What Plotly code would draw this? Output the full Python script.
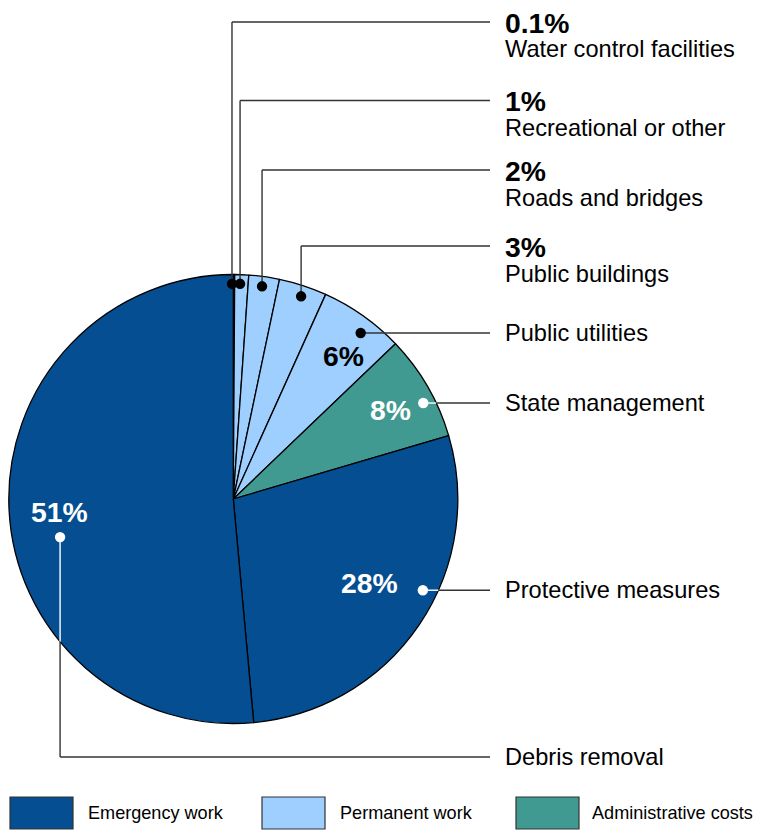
import math
import plotly.graph_objects as go

# ---------------- data ----------------
categories = ["Water control facilities", "Recreational or other", "Roads and bridges",
              "Public buildings", "Public utilities", "State management",
              "Protective measures", "Debris removal"]
shares = [0.1, 1.0, 2.2, 3.45, 6.1, 7.6, 28.1, 51.45]
pct_labels = ["0.1%", "1%", "2%", "3%", "6%", "8%", "28%", "51%"]
slice_groups = ["Permanent work", "Permanent work", "Permanent work", "Permanent work",
                "Permanent work", "Administrative costs", "Emergency work", "Emergency work"]
group_names = ["Emergency work", "Permanent work", "Administrative costs"]

# ---------------- style / layout ----------------
PAGE_OFF = 8                      # browser body margin
W, H = 762 - PAGE_OFF, 831 - PAGE_OFF
CX, CY, R = 233.3, 499.0, 224.5   # page pixel coordinates of the pie
group_colors = {"Emergency work": "#054E91", "Permanent work": "#9ECFFE",
                "Administrative costs": "#409A91"}
FONT = "Liberation Sans, Arial, Helvetica, sans-serif"
LINE = "#333333"
LABEL_X = 503
LINE_END_X = 490
PCT_SIZE = 28.3
CAT_SIZE = 23.6
LEG_SIZE = 18.1

anchors = [(-0.35, 0.958), (1.8, 0.959), (7.7, 0.956), (18.5, 0.952),
           (37.5, 0.932), (63.2, 0.948), (115.7, 0.937), (257.6, 0.79)]
routes = ["up", "up", "up", "up", "right", "right", "right", "down"]
row_y = [22, 100.5, 170, 246, None, None, None, 757]
inside = [False, False, False, False, True, True, True, True]
inside_offset = [None, None, None, None, (-17, 23), (-33, 7), (-53, -7), (-1, -25)]
dot_white = [False, False, False, False, False, True, True, True]
inside_text_color = {4: "#000000", 5: "#FFFFFF", 6: "#FFFFFF", 7: "#FFFFFF"}

legend_x = [10, 262, 516]
legend_text_dx = [76, 76, 74]
LEG_Y0, LEG_Y1 = 797, 829


def px(x):
    return (x - PAGE_OFF) / W


def py(y):
    return 1 - (y - PAGE_OFF) / H


fig = go.Figure()
fig.add_trace(go.Pie(
    labels=categories, values=shares, sort=False, direction="clockwise", rotation=0,
    marker=dict(colors=[group_colors[g] for g in slice_groups],
                line=dict(color="#000000", width=1.3)),
    textinfo="none", hoverinfo="label+value", showlegend=False,
    domain=dict(x=[px(CX - R), px(CX + R)], y=[py(CY + R), py(CY - R)]),
))

shapes = []
annotations = []


def seg(x0, y0, x1, y1, color=LINE, width=1.4):
    shapes.append(dict(type="line", xref="paper", yref="paper",
                       x0=px(x0), y0=py(y0), x1=px(x1), y1=py(y1),
                       line=dict(color=color, width=width)))


for i, cat in enumerate(categories):
    ang, rf = anchors[i]
    a = math.radians(ang)
    dx = CX + rf * R * math.sin(a)
    dy = CY - rf * R * math.cos(a)
    route = routes[i]
    if route == "up":
        seg(dx, dy, dx, row_y[i])
        seg(dx, row_y[i], LINE_END_X, row_y[i])
        label_y = row_y[i]
    elif route == "right":
        if dot_white[i]:
            xe = CX + math.sqrt(max(R * R - (dy - CY) ** 2, 0))
            seg(dx, dy, xe, dy, color="#FFFFFF")
            seg(xe, dy, LINE_END_X, dy)
        else:
            seg(dx, dy, LINE_END_X, dy)
        label_y = dy
    else:  # down
        ye = CY + math.sqrt(max(R * R - (dx - CX) ** 2, 0))
        seg(dx, dy, dx, ye, color="#FFFFFF")
        seg(dx, ye, dx, row_y[i])
        seg(dx, row_y[i], LINE_END_X, row_y[i])
        label_y = row_y[i]

    rd = 5.2
    shapes.append(dict(type="circle", xref="paper", yref="paper",
                       x0=px(dx - rd), x1=px(dx + rd), y0=py(dy + rd), y1=py(dy - rd),
                       fillcolor="#FFFFFF" if dot_white[i] else "#000000",
                       line=dict(width=0)))

    if inside[i]:
        ox, oy = inside_offset[i]
        annotations.append(dict(x=px(dx + ox), y=py(dy + oy), xref="paper", yref="paper",
                                text="<b>%s</b>" % pct_labels[i], showarrow=False,
                                xanchor="center", yanchor="middle",
                                font=dict(family=FONT, size=PCT_SIZE,
                                          color=inside_text_color[i])))
        annotations.append(dict(x=px(LABEL_X), y=py(label_y), xref="paper", yref="paper",
                                text=cat, showarrow=False, xanchor="left", yanchor="middle",
                                font=dict(family=FONT, size=CAT_SIZE, color="#000000")))
    else:
        annotations.append(dict(x=px(LABEL_X), y=py(label_y + 1), xref="paper", yref="paper",
                                text="<b>%s</b>" % pct_labels[i], showarrow=False,
                                xanchor="left", yanchor="middle",
                                font=dict(family=FONT, size=PCT_SIZE, color="#000000")))
        annotations.append(dict(x=px(LABEL_X), y=py(label_y + 27.5), xref="paper", yref="paper",
                                text=cat, showarrow=False, xanchor="left", yanchor="middle",
                                font=dict(family=FONT, size=CAT_SIZE, color="#000000")))

for g, lx, tdx in zip(group_names, legend_x, legend_text_dx):
    shapes.append(dict(type="rect", xref="paper", yref="paper",
                       x0=px(lx), x1=px(lx + 63), y0=py(LEG_Y1), y1=py(LEG_Y0),
                       fillcolor=group_colors[g], line=dict(color="#333333", width=1.2)))
    annotations.append(dict(x=px(lx + tdx), y=py((LEG_Y0 + LEG_Y1) / 2), xref="paper",
                            yref="paper", text=g, showarrow=False, xanchor="left",
                            yanchor="middle",
                            font=dict(family=FONT, size=LEG_SIZE, color="#000000")))

fig.update_layout(
    width=W, height=H, margin=dict(l=0, r=0, t=0, b=0),
    paper_bgcolor="#FFFFFF", plot_bgcolor="#FFFFFF",
    shapes=shapes, annotations=annotations, showlegend=False,
)

fig.write_html("out.html")
